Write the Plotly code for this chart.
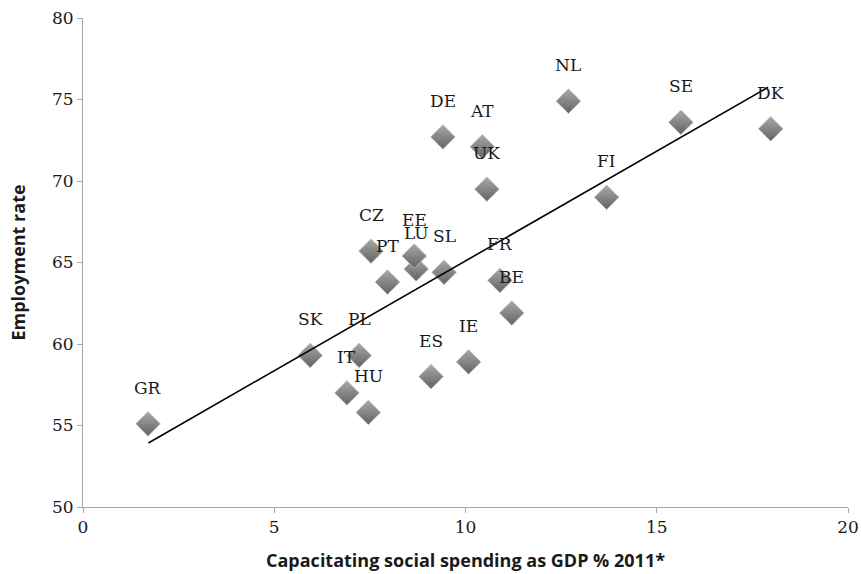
import plotly.graph_objects as go

countries = ["GR", "SK", "PL", "IT", "HU", "ES", "IE", "BE", "FR", "SL", "LU",
             "EE", "PT", "CZ", "UK", "FI", "DE", "AT", "NL", "SE", "DK"]
spending = [1.70, 5.94, 7.22, 6.90, 7.46, 9.10, 10.08, 11.21, 10.90, 9.44, 8.71,
            8.66, 7.96, 7.53, 10.56, 13.69, 9.41, 10.44, 12.69, 15.63, 17.98]
employment = [55.1, 59.3, 59.3, 57.0, 55.8, 58.0, 58.9, 61.9, 63.9, 64.4, 64.6,
              65.4, 63.8, 65.7, 69.5, 69.0, 72.7, 72.1, 74.9, 73.6, 73.2]

trend_x = [1.71, 17.91]
trend_y = [53.93, 75.75]

x_ticks = [0, 5, 10, 15, 20]
y_ticks = [50, 55, 60, 65, 70, 75, 80]

fig = go.Figure()
fig.add_trace(go.Scatter(
    x=spending, y=employment, mode="markers",
    marker=dict(symbol="diamond", size=19, color="#a9a9a9",
                gradient=dict(type="vertical", color="#626262"),
                line=dict(color="#c4c4c4", width=0.8)),
    showlegend=False, hoverinfo="text", text=countries,
))
fig.add_trace(go.Scatter(
    x=trend_x, y=trend_y, mode="lines",
    line=dict(color="black", width=1.6), showlegend=False,
))

for c, xv, yv in zip(countries, spending, employment):
    fig.add_annotation(x=xv, y=yv, text=c, showarrow=False, yshift=36,
                       font=dict(family="DejaVu Serif", size=17, color="#1a1a1a"))

axis_common = dict(showgrid=False, zeroline=False, showline=True,
                   linecolor="#a6a6a6", linewidth=1, ticks="outside",
                   tickcolor="#a6a6a6", ticklen=5, tickwidth=1, automargin=False,
                   tickfont=dict(family="DejaVu Serif", size=17, color="#1a1a1a"))

fig.update_layout(
    width=861, height=574,
    margin=dict(l=83, r=13, t=18, b=67),
    plot_bgcolor="white", paper_bgcolor="white",
    xaxis=dict(range=[0, 20], tickvals=x_ticks, **axis_common,
               title=dict(text="<b>Capacitating social spending as GDP % 2011*</b>",
                          font=dict(family="Open Sans", size=18, color="#1a1a1a"),
                          standoff=17)),
    yaxis=dict(range=[50, 80], tickvals=y_ticks, **axis_common,
               title=dict(text="<b>Employment rate</b>",
                          font=dict(family="Open Sans", size=18, color="#1a1a1a"),
                          standoff=21)),
)

fig.write_html("out.html", config={"displayModeBar": False},
               post_script="document.body.style.margin='0';")
